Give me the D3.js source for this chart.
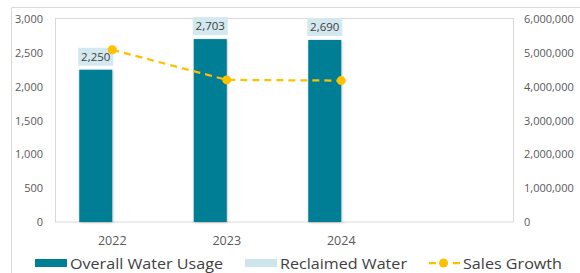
<!DOCTYPE html>
<html>
<head>
<meta charset="utf-8">
<script src="https://cdn.jsdelivr.net/npm/d3@7"></script>
<style>
  body { margin: 0; background: #fff; }
  text { font-family: "Open Sans", "Noto Sans", sans-serif; }
</style>
</head>
<body>
<div id="chart"></div>
<script>
// data
const years = ['2022', '2023', '2024', ''];
const overallWater = [2250, 2703, 2690, null];
const reclaimedWater = [null, null, null, null];
const salesGrowth = [5090000, 4200000, 4180000, null];
const leftTicks = [0, 500, 1000, 1500, 2000, 2500, 3000];
const rightTicks = [0, 1000000, 2000000, 3000000, 4000000, 5000000, 6000000];

const width = 580, height = 273;
const plot = { left: 55, right: 513, top: 19, bottom: 222 };

const svg = d3.select('#chart').append('svg')
    .attr('width', width)
    .attr('height', height);

// outer chart frame
svg.append('path')
    .attr('d', 'M11.5,273 V7.5 H580')
    .attr('fill', 'none')
    .attr('stroke', '#d9d9d9');

const x = d3.scaleBand()
    .domain(d3.range(years.length))
    .range([plot.left, plot.right]);

// two series per year: overall on the left, reclaimed on the right
const xSeries = d3.scaleBand()
    .domain(['overall', 'reclaimed'])
    .range([0, x.bandwidth()])
    .paddingOuter(0.735)
    .paddingInner(0);

const yLeft = d3.scaleLinear().domain([0, 3000]).range([plot.bottom, plot.top]);
const yRight = d3.scaleLinear().domain([0, 6000000]).range([plot.bottom, plot.top]);

// plot area border
svg.append('rect')
    .attr('x', plot.left + 0.5)
    .attr('y', plot.top - 0.5)
    .attr('width', plot.right - plot.left)
    .attr('height', plot.bottom - plot.top + 0.5)
    .attr('fill', 'none')
    .attr('stroke', '#d9d9d9');

// left axis
const leftAxis = svg.append('g')
    .attr('transform', 'translate(' + 43 + ',0)')
    .call(d3.axisLeft(yLeft).tickValues(leftTicks).tickFormat(d3.format(',')).tickSize(0).tickPadding(0));
leftAxis.select('.domain').remove();
leftAxis.selectAll('text')
    .style('font-size', '11px')
    .attr('fill', '#595959');

// right axis
const rightAxis = svg.append('g')
    .attr('transform', 'translate(' + 524 + ',0)')
    .call(d3.axisRight(yRight).tickValues(rightTicks).tickFormat(d3.format(',')).tickSize(0).tickPadding(0));
rightAxis.select('.domain').remove();
rightAxis.selectAll('text')
    .style('font-size', '11px')
    .attr('fill', '#595959');

// x labels
svg.append('g').selectAll('text')
    .data(years)
    .join('text')
    .attr('x', (d, i) => x(i) + x.bandwidth() / 2)
    .attr('y', 245)
    .attr('text-anchor', 'middle')
    .style('font-size', '12.5px')
    .attr('fill', '#595959')
    .text(d => d);

// shadow for bars
const defs = svg.append('defs');
const filter = defs.append('filter').attr('id', 'shadow')
    .attr('x', '-20%').attr('y', '-5%').attr('width', '140%').attr('height', '110%');
filter.append('feDropShadow')
    .attr('dx', 0.5).attr('dy', 0.5).attr('stdDeviation', 1)
    .attr('flood-color', '#000').attr('flood-opacity', 0.3);

const barColor = '#007e96';
const reclaimedColor = '#cde5eb';

// overall water bars
svg.append('g').selectAll('rect')
    .data(overallWater.map((v, i) => ({ v, i })).filter(d => d.v != null))
    .join('rect')
    .attr('x', d => x(d.i) + xSeries('overall'))
    .attr('y', d => yLeft(d.v))
    .attr('width', xSeries.bandwidth())
    .attr('height', d => yLeft(0) - yLeft(d.v))
    .attr('fill', barColor)
    .attr('filter', 'url(#shadow)');

// reclaimed water bars (no values)
svg.append('g').selectAll('rect')
    .data(reclaimedWater.map((v, i) => ({ v, i })).filter(d => d.v != null))
    .join('rect')
    .attr('x', d => x(d.i) + xSeries('reclaimed'))
    .attr('y', d => yLeft(d.v))
    .attr('width', xSeries.bandwidth())
    .attr('height', d => yLeft(0) - yLeft(d.v))
    .attr('fill', reclaimedColor);

// data labels
const labels = svg.append('g').selectAll('g')
    .data(overallWater.map((v, i) => ({ v, i })).filter(d => d.v != null))
    .join('g')
    .attr('transform', d => 'translate(' + (x(d.i) + xSeries('overall') + xSeries.bandwidth() / 2) + ',' + (yLeft(d.v) - 13) + ')');
labels.append('rect')
    .attr('x', -17.5).attr('y', -9)
    .attr('width', 35).attr('height', 18)
    .attr('fill', '#d3e9ef');
labels.append('text')
    .attr('text-anchor', 'middle')
    .attr('dy', '0.35em')
    .style('font-size', '11.5px')
    .attr('fill', '#404040')
    .text(d => d3.format(',')(d.v));

// sales growth line
const salesColor = '#ffc000';
const salesPts = salesGrowth.map((v, i) => ({ v, i })).filter(d => d.v != null);
const line = d3.line()
    .x(d => x(d.i) + x.bandwidth() / 2)
    .y(d => yRight(d.v));
svg.append('path')
    .datum(salesPts)
    .attr('d', line)
    .attr('fill', 'none')
    .attr('stroke', salesColor)
    .attr('stroke-width', 2.25)
    .attr('stroke-dasharray', '7,5');
svg.append('g').selectAll('circle')
    .data(salesPts)
    .join('circle')
    .attr('cx', d => x(d.i) + x.bandwidth() / 2)
    .attr('cy', d => yRight(d.v))
    .attr('r', 4.5)
    .attr('fill', salesColor);

// legend
const legend = svg.append('g');
legend.append('rect').attr('x', 35).attr('y', 259).attr('width', 32).attr('height', 8).attr('fill', barColor);
legend.append('text').attr('x', 70).attr('y', 268.5).style('font-size', '15px').attr('fill', '#404040')
    .attr('textLength', 153).attr('lengthAdjust', 'spacingAndGlyphs').text('Overall Water Usage');
legend.append('rect').attr('x', 245).attr('y', 259).attr('width', 32).attr('height', 8).attr('fill', reclaimedColor);
legend.append('text').attr('x', 280).attr('y', 268.5).style('font-size', '15px').attr('fill', '#404040')
    .attr('textLength', 127).attr('lengthAdjust', 'spacingAndGlyphs').text('Reclaimed Water');
legend.append('line').attr('x1', 428).attr('x2', 460).attr('y1', 263).attr('y2', 263)
    .attr('stroke', salesColor).attr('stroke-width', 2.25).attr('stroke-dasharray', '7,5').attr('stroke-dashoffset', -1);
legend.append('circle').attr('cx', 443.5).attr('cy', 263).attr('r', 4.5).attr('fill', salesColor);
legend.append('text').attr('x', 463).attr('y', 268.5).style('font-size', '15px').attr('fill', '#404040')
    .attr('textLength', 99).attr('lengthAdjust', 'spacingAndGlyphs').text('Sales Growth');
</script>
</body>
</html>
